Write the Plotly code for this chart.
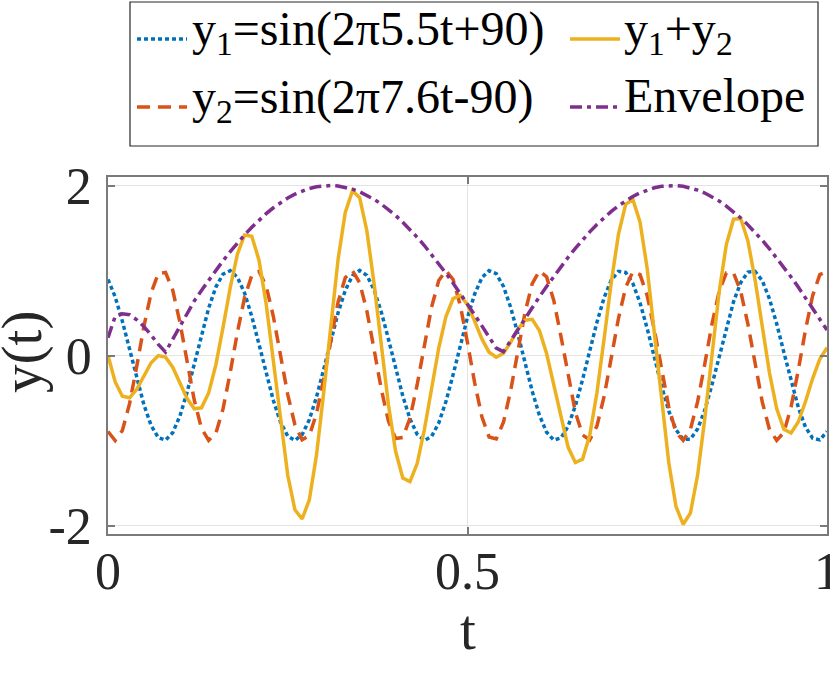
import plotly.graph_objects as go

# sampling of the time axis
T0 = 0.0
DT = 0.01

y1 = [0.894, 0.689, 0.403, 0.069, -0.273, -0.582, -0.823, -0.967, -0.996, -0.908,
      -0.712, -0.432, -0.101, 0.242, 0.557, 0.805, 0.958, 0.998, 0.920, 0.734,
      0.460, 0.132, -0.212, -0.530, -0.786, -0.949, -1.000, -0.932, -0.755, -0.488,
      -0.163, 0.181, 0.503, 0.766, 0.939, 1.000, 0.943, 0.775, 0.515, 0.194,
      -0.150, -0.476, -0.746, -0.927, -0.999, -0.953, -0.794, -0.541, -0.225, 0.119,
      0.448, 0.724, 0.915, 0.998, 0.962, 0.813, 0.568, 0.255, -0.088, -0.420,
      -0.702, -0.902, -0.995, -0.970, -0.831, -0.593, -0.285, 0.056, 0.391, 0.680,
      0.888, 0.991, 0.977, 0.848, 0.618, 0.315, -0.025, -0.362, -0.656, -0.873,
      -0.987, -0.984, -0.864, -0.643, -0.345, -0.007, 0.333, 0.632, 0.857, 0.981,
      0.989, 0.880, 0.666, 0.374, 0.038, -0.303, -0.608, -0.841, -0.974, -0.993,
      -0.894]

y2 = [-0.894, -1.000, -0.882, -0.567, -0.125, 0.345, 0.738, 0.966, 0.977, 0.770,
      0.391, -0.076, -0.526, -0.858, -0.998, -0.915, -0.628, -0.199, 0.273, 0.685,
      0.943, 0.990, 0.816, 0.459, 0.000, -0.460, -0.817, -0.991, -0.943, -0.684,
      -0.273, 0.200, 0.628, 0.915, 0.998, 0.857, 0.525, 0.075, -0.392, -0.771,
      -0.977, -0.965, -0.737, -0.344, 0.126, 0.568, 0.882, 1.000, 0.894, 0.588,
      0.150, -0.321, -0.721, -0.959, -0.982, -0.786, -0.414, 0.051, 0.504, 0.845,
      0.996, 0.925, 0.647, 0.224, -0.249, -0.666, -0.935, -0.994, -0.830, -0.482,
      -0.025, 0.438, 0.802, 0.987, 0.951, 0.702, 0.297, -0.175, -0.608, -0.905,
      -0.999, -0.870, -0.546, -0.100, 0.369, 0.755, 0.972, 0.972, 0.754, 0.368,
      -0.101, -0.547, -0.870, -0.999, -0.905, -0.608, -0.175, 0.297, 0.703, 0.951,
      0.987]

y_sum = [0.000, -0.311, -0.479, -0.498, -0.398, -0.237, -0.085, -0.001, -0.019, -0.137,
         -0.321, -0.507, -0.627, -0.616, -0.441, -0.110, 0.331, 0.799, 1.194, 1.418,
         1.403, 1.122, 0.605, -0.071, -0.786, -1.409, -1.816, -1.923, -1.697, -1.172,
         -0.436, 0.381, 1.131, 1.682, 1.937, 1.857, 1.468, 0.850, 0.123, -0.577,
         -1.127, -1.441, -1.483, -1.271, -0.874, -0.386, 0.088, 0.458, 0.669, 0.706,
         0.598, 0.403, 0.195, 0.039, -0.020, 0.027, 0.154, 0.306, 0.416, 0.425,
         0.294, 0.023, -0.348, -0.746, -1.080, -1.259, -1.220, -0.938, -0.439, 0.198,
         0.863, 1.429, 1.779, 1.835, 1.569, 1.017, 0.272, -0.537, -1.264, -1.778,
         -1.986, -1.854, -1.410, -0.743, 0.024, 0.748, 1.305, 1.604, 1.611, 1.349,
         0.888, 0.333, -0.204, -0.625, -0.867, -0.911, -0.783, -0.544, -0.271, -0.042,
         0.093]

envelope = [0.21, 0.46, 0.49, 0.48, 0.42, 0.34, 0.24, 0.13, 0.04, 0.19,
            0.36, 0.51, 0.642, 0.766, 0.886, 1.002, 1.115, 1.221, 1.323, 1.419,
            1.509, 1.592, 1.669, 1.738, 1.799, 1.853, 1.898, 1.936, 1.965, 1.985,
            1.997, 2.000, 1.994, 1.980, 1.957, 1.926, 1.886, 1.838, 1.782, 1.718,
            1.647, 1.568, 1.483, 1.391, 1.294, 1.190, 1.082, 0.968, 0.851, 0.730,
            0.605, 0.478, 0.349, 0.219, 0.087, 0.045, 0.176, 0.307, 0.437, 0.565,
            0.690, 0.812, 0.931, 1.046, 1.156, 1.261, 1.361, 1.454, 1.542, 1.622,
            1.696, 1.762, 1.821, 1.871, 1.914, 1.948, 1.973, 1.991, 1.999, 1.999,
            1.990, 1.972, 1.946, 1.911, 1.868, 1.817, 1.758, 1.692, 1.618, 1.537,
            1.449, 1.355, 1.255, 1.149, 1.039, 0.924, 0.805, 0.683, 0.557, 0.429,
            0.300]

series_names = ["y<sub>1</sub>=sin(2π5.5t+90)",
                "y<sub>2</sub>=sin(2π7.6t-90)",
                "y<sub>1</sub>+y<sub>2</sub>",
                "Envelope"]

x_tick_vals = [0, 0.5, 1]
x_tick_text = ["0", "0.5", "1"]
y_tick_vals = [-2, 0, 2]
y_tick_text = ["-2", "0", "2"]
x_title = "t"
y_title = "y(t)"

FONT = "Liberation Serif"
AXC = "#7a7a7a"
GRID = "#e3e3e3"
TXT = "#262626"

styles = [dict(color="#0072BD", width=3.5, dash="4px,3px"),
          dict(color="#D95319", width=3.5, dash="13px,8px"),
          dict(color="#EDB120", width=3.5, dash="solid"),
          dict(color="#7E2F8E", width=3.5, dash="12px,5px,4px,5px")]
series = [y1, y2, y_sum, envelope]

fig = go.Figure()
for name, ys, st in zip(series_names, series, styles):
    fig.add_trace(go.Scatter(x0=T0, dx=DT, y=ys, mode="lines", name=name,
                             line=st, showlegend=False, hoverinfo="skip"))

# legend drawn as a framed 2x2 key (paper coordinates of the plot area)
def px_x(p):
    return (p - 108) / 719.0

def px_y(p):
    return (534 - p) / 357.0

key_slots = [  # (symbol x0, x1, symbol y, text x, text middle y) in pixels
    (137, 187, 39, 190, 32),
    (137, 187, 107, 190, 100),
    (570, 620, 39, 622, 32),
    (570, 620, 107, 622, 96),
]

shapes = [dict(type="rect", xref="paper", yref="paper",
               x0=px_x(130), x1=px_x(818), y0=px_y(146), y1=px_y(2),
               line=dict(color="#262626", width=1.2), fillcolor="rgba(0,0,0,0)")]
annotations = []
for name, st, (sx0, sx1, sy, tx, ty) in zip(series_names, styles, key_slots):
    shapes.append(dict(type="line", xref="paper", yref="paper",
                       x0=px_x(sx0), x1=px_x(sx1), y0=px_y(sy), y1=px_y(sy),
                       line=st))
    annotations.append(dict(text=name, xref="paper", yref="paper",
                            x=px_x(tx), y=px_y(ty), xanchor="left", yanchor="middle",
                            showarrow=False, font=dict(family=FONT, size=48, color="black")))

annotations += [
    dict(text=x_title, xref="paper", yref="paper", x=0.5, y=-0.268,
         xanchor="center", yanchor="middle", showarrow=False,
         font=dict(family=FONT, size=57, color=TXT)),
    dict(text=y_title, xref="paper", yref="paper", x=-0.1196, y=0.51,
         xanchor="center", yanchor="middle", showarrow=False, textangle=-90,
         font=dict(family=FONT, size=57, color=TXT)),
]

fig.update_layout(
    width=830, height=678,
    margin=dict(l=108, r=3, t=177, b=144, autoexpand=False),
    paper_bgcolor="white", plot_bgcolor="white",
    showlegend=False,
    font=dict(family=FONT, color=TXT),
    xaxis=dict(range=[0, 1], tickvals=x_tick_vals, ticktext=x_tick_text,
               automargin=False, ticklabeloverflow="allow",
               showgrid=True, gridcolor=GRID, gridwidth=1, zeroline=False,
               showline=True, linecolor=AXC, linewidth=1.5, mirror="ticks",
               ticks="inside", ticklen=7, tickcolor=AXC, tickwidth=1.5,
               tickfont=dict(family=FONT, size=52, color=TXT),
               ticklabelstandoff=-9),
    yaxis=dict(range=[-2.1, 2.1], tickvals=y_tick_vals, ticktext=y_tick_text,
               automargin=False, ticklabeloverflow="allow",
               showgrid=True, gridcolor=GRID, gridwidth=1, zeroline=False,
               showline=True, linecolor=AXC, linewidth=1.5, mirror="ticks",
               ticks="inside", ticklen=7, tickcolor=AXC, tickwidth=1.5,
               tickfont=dict(family=FONT, size=52, color=TXT),
               ticklabelstandoff=4),
    annotations=annotations,
    shapes=shapes,
)

fig.write_html("out.html", config={"displayModeBar": False},
               post_script="document.body.style.margin='0px';")
